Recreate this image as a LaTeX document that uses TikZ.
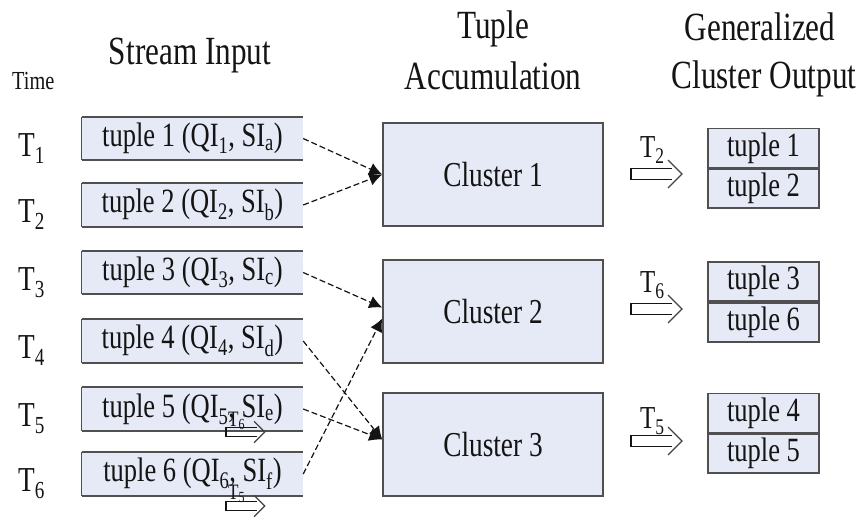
\documentclass[tikz,border=0pt]{standalone}
\usepackage{fontspec}
\setmainfont[FakeStretch=0.78]{Liberation Serif}
\usetikzlibrary{arrows.meta,calc}
\definecolor{boxfill}{RGB}{230,234,246}
\definecolor{boxline}{RGB}{80,80,80}
\definecolor{inkc}{RGB}{20,20,20}
\newcommand{\myfs}[1]{\fontsize{#1}{#1}\selectfont}
\begin{document}
\begin{tikzpicture}[x=1pt,y=-1pt,
  tuplebox/.style={minimum width=221pt, minimum height=43pt, inner sep=0pt, fill=boxfill, font=\myfs{34}, text=inkc},
  clusterbox/.style={draw=boxline, line width=1.5pt, fill=boxfill, minimum width=220pt, minimum height=103pt, inner sep=0pt, font=\myfs{35}, text=inkc},
  outbox/.style={draw=boxline, line width=1.8pt, fill=boxfill, minimum width=111pt, minimum height=39pt, inner sep=0pt, font=\myfs{34}, text=inkc},
  head/.style={font=\myfs{40}, text=inkc, inner sep=0pt},
  tlabel/.style={font=\myfs{35}, text=inkc, inner sep=0pt, anchor=base west},
  arrlabel/.style={font=\myfs{32}, text=inkc, inner sep=0pt, anchor=base west},
  smalllabel/.style={font=\myfs{22}, text=inkc, inner sep=0pt, anchor=base west},
  feed/.style={dash pattern=on 6pt off 3pt, line width=1.2pt, draw=inkc, -{Latex[length=13pt,width=13pt]}},
  hollowarrow/.pic={
    \draw[line width=1.3pt, draw=inkc, line join=miter] (41,-5.5) -- (0,-5.5) -- (0,5.5) -- (41,5.5);
    \draw[line width=1.3pt, draw=inkc!80] (37,-14) -- (51,0) -- (37,14);
  }
]
\useasboundingbox (0,0) rectangle (867,517);
\fill[white] (0,0) rectangle (867,517);

% headers
\node[font=\myfs{26}, text=inkc, inner sep=0pt, anchor=base west] (htime) at (12,89) {Time};
\node[head, anchor=base] (hs) at (190,64) {Stream Input};
\node[head, anchor=base] (ht1) at (493,38) {Tuple};
\node[head, anchor=base] (ht2) at (493,89) {Accumulation};
\node[head, anchor=base] (hg1) at (760,40) {Generalized};
\node[head, anchor=base] (hg2) at (764,88) {Cluster Output};

% time labels
\node[tlabel] (T1) at (18,156) {T\textsubscript{1}};
\node[tlabel] (T2) at (18,222) {T\textsubscript{2}};
\node[tlabel] (T3) at (18,290) {T\textsubscript{3}};
\node[tlabel] (T4) at (18,358) {T\textsubscript{4}};
\node[tlabel] (T5) at (18,426) {T\textsubscript{5}};
\node[tlabel] (T6) at (18,491) {T\textsubscript{6}};

% stream input tuples
\node[tuplebox] (t1) at (192.5,138.5) {tuple 1 (QI\textsubscript{1}, SI\textsubscript{a})};
\node[tuplebox] (t2) at (192.5,205) {tuple 2 (QI\textsubscript{2}, SI\textsubscript{b})};
\node[tuplebox] (t3) at (192.5,272.5) {tuple 3 (QI\textsubscript{3}, SI\textsubscript{c})};
\node[tuplebox] (t4) at (192.5,341) {tuple 4 (QI\textsubscript{4}, SI\textsubscript{d})};
\node[tuplebox] (t5) at (192.5,409) {tuple 5 (QI\textsubscript{5}, SI\textsubscript{e})};
\node[tuplebox] (t6) at (192.5,474) {tuple 6 (QI\textsubscript{6}, SI\textsubscript{f})};
\foreach \t in {t1,t2,t3,t4,t5,t6}{
  \draw[boxline, line width=2pt] (\t.north west) -- (\t.north east);
  \draw[boxline, line width=2pt] (\t.south west) -- (\t.south east);
  \draw[boxline, line width=1pt] (\t.north west) -- (\t.south west);
}

% clusters
\node[clusterbox] (c1) at (493,174.5) {Cluster 1};
\node[clusterbox] (c2) at (493,311.5) {Cluster 2};
\node[clusterbox] (c3) at (493,444.5) {Cluster 3};

% feed arrows
\draw[feed] (t1.east) -- (c1.west);
\draw[feed] (t2.east) -- (c1.west);
\draw[feed] (t3.east) -- ($(c2.west)+(0,-4)$);
\draw[feed] (t6.east) -- ($(c2.west)+(0,7)$);
\draw[feed] (t4.east) -- ($(c3.west)+(0,-5)$);
\draw[feed] (t5.east) -- ($(c3.west)+(0,-5)$);

% outputs
\node[outbox] (o1a) at (763.5,148) {tuple 1};
\node[outbox, anchor=north] (o1b) at (o1a.south) {tuple 2};
\node[outbox] (o2a) at (763.5,281.5) {tuple 3};
\node[outbox, anchor=north] (o2b) at (o2a.south) {tuple 6};
\node[outbox] (o3a) at (763.5,413) {tuple 4};
\node[outbox, anchor=north] (o3b) at (o3a.south) {tuple 5};

% output arrows
\coordinate (a1) at (631,174);
\coordinate (a2) at (631,309);
\coordinate (a3) at (631,441);
\pic at (a1) {hollowarrow};
\pic at (a2) {hollowarrow};
\pic at (a3) {hollowarrow};
\node[arrlabel] (l1) at (640,157) {T\textsubscript{2}};
\node[arrlabel] (l2) at (640,292) {T\textsubscript{6}};
\node[arrlabel] (l3) at (640,428) {T\textsubscript{5}};

% stray small arrows
\coordinate (s1) at (226,432);
\coordinate (s2) at (226,506);
\pic[scale=0.76] at (s1) {hollowarrow};
\pic[scale=0.76] at (s2) {hollowarrow};
\node[smalllabel] (sl1) at (228,426) {T\textsubscript{6}};
\node[smalllabel] (sl2) at (228,499) {T\textsubscript{5}};
\end{tikzpicture}
\end{document}
